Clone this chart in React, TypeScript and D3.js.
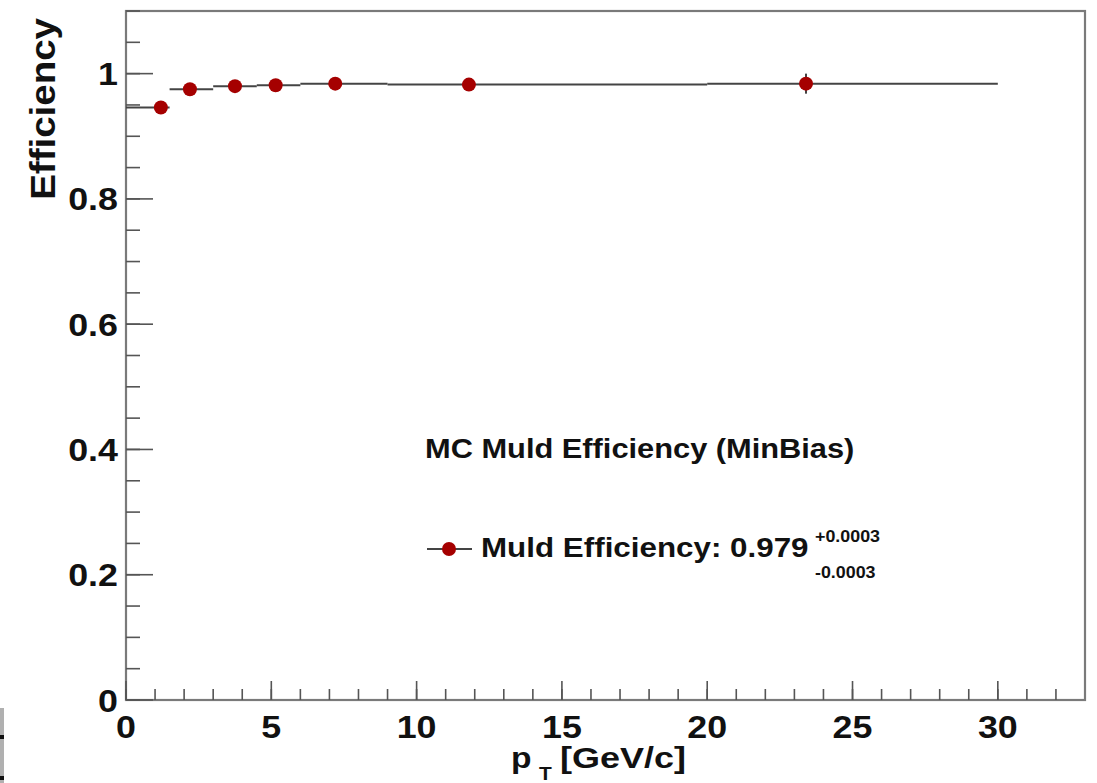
import * as d3 from "d3";

const binLo = [0, 1.5, 3, 4.5, 6, 9, 20];
const binHi = [1.5, 3, 4.5, 6, 9, 20, 30];
const ptMean = [1.2, 2.2, 3.75, 5.15, 7.2, 11.8, 23.4];
const eff = [0.946, 0.975, 0.98, 0.9815, 0.984, 0.9825, 0.984];
const effErr = [0.004, 0.003, 0.003, 0.003, 0.003, 0.003, 0.016];

const yTickLabels = ["0", "0.2", "0.4", "0.6", "0.8", "1"];
const xTickLabels = ["0", "5", "10", "15", "20", "25", "30"];

const legendTitle = "MC Muld Efficiency (MinBias)";
const legendEntry = "Muld Efficiency: 0.979";
const errUp = "+0.0003";
const errDown = "-0.0003";

const W = 1097,
  H = 783;
const left = 126,
  right = 1085,
  top = 11,
  bottom = 700;

const FONT = "'Liberation Sans', Arial, Helvetica, sans-serif";
const RED = "#a50000";

// ROOT text looks a bit wider than Arial, stretch along the text direction
const T = ({ x, y, size, sx = 1.13, anchor = "start", rotate = 0, children }: any) => (
  <text
    transform={`translate(${x},${y}) rotate(${rotate}) scale(${sx},1)`}
    fontFamily={FONT}
    fontWeight="bold"
    fontSize={size}
    textAnchor={anchor}
    fill="#111"
  >
    {children}
  </text>
);

export default function App() {
  const x = d3.scaleLinear().domain([0, 33]).range([left, right]);
  const y = d3.scaleLinear().domain([0, 1.1]).range([bottom, top]);

  const yMinor = d3.range(0, 1.1001, 0.05);
  const yMajor = yTickLabels.map(Number);
  const xMinor = d3.range(0, 33, 1);
  const xMajor = xTickLabels.map(Number);

  return (
    <svg width={W} height={H} style={{ display: "block", position: "absolute", left: 0, top: 0 }}>
      <rect width={W} height={H} fill="#fff" />

      {/* frame */}
      <rect x={left} y={top} width={right - left} height={bottom - top} fill="none" stroke="#7a7a7a" strokeWidth={2.2} />

      {/* y ticks */}
      {yMinor.map((v, i) => (
        <line key={"ym" + i} x1={left} x2={left + 14} y1={y(v)} y2={y(v)} stroke="#555" strokeWidth={1.6} />
      ))}
      {yMajor.map((v, i) => (
        <line key={"yM" + i} x1={left} x2={left + 27} y1={y(v)} y2={y(v)} stroke="#555" strokeWidth={1.6} />
      ))}
      {yTickLabels.map((t, i) => (
        <T key={"yl" + i} x={118} y={y(yMajor[i]) + 11.5} size={32} sx={1.12} anchor="end">
          {t}
        </T>
      ))}

      {/* x ticks */}
      {xMinor.map((v, i) => (
        <line key={"xm" + i} x1={x(v)} x2={x(v)} y1={bottom} y2={bottom - 11} stroke="#555" strokeWidth={1.6} />
      ))}
      {xMajor.map((v, i) => (
        <line key={"xM" + i} x1={x(v)} x2={x(v)} y1={bottom} y2={bottom - 19} stroke="#555" strokeWidth={1.6} />
      ))}
      {xTickLabels.map((t, i) => (
        <T key={"xl" + i} x={x(xMajor[i])} y={738} size={32} sx={1.12} anchor="middle">
          {t}
        </T>
      ))}

      {/* axis titles */}
      <T x={55} y={18} size={35} sx={1.1} anchor="end" rotate={-90}>
        Efficiency
      </T>
      <T x={511} y={768} size={30} sx={1.12}>
        p
      </T>
      <T x={539} y={780} size={19} sx={1.1}>
        T
      </T>
      <T x={560} y={768} size={30} sx={1.2}>
        [GeV/c]
      </T>

      {/* data: bin-width bars, error bars, markers */}
      {eff.map((v, i) => (
        <g key={"pt" + i}>
          <line x1={x(binLo[i])} x2={x(binHi[i])} y1={y(v)} y2={y(v)} stroke="#444" strokeWidth={2} />
          <line x1={x(ptMean[i])} x2={x(ptMean[i])} y1={y(v - effErr[i])} y2={y(v + effErr[i])} stroke="#444" strokeWidth={2} />
          <circle cx={x(ptMean[i])} cy={y(v)} r={7} fill={RED} />
        </g>
      ))}

      {/* legend */}
      <T x={425} y={458} size={28} sx={1.1}>
        {legendTitle}
      </T>
      <line x1={427} x2={472} y1={549} y2={549} stroke="#444" strokeWidth={2} />
      <circle cx={449} cy={549} r={7} fill={RED} />
      <T x={481} y={557} size={28} sx={1.12}>
        {legendEntry}
      </T>
      <T x={815} y={542} size={17} sx={1.05}>
        {errUp}
      </T>
      <T x={815} y={578} size={17} sx={1.05}>
        {errDown}
      </T>

      {/* clipped neighbour at the bottom-left edge */}
      <rect x={0} y={708} width={4} height={75} fill="#b0b0b0" />
      <rect x={0} y={735} width={4} height={4} fill="#111" />
      <rect x={0} y={776} width={4} height={4} fill="#111" />
    </svg>
  );
}
